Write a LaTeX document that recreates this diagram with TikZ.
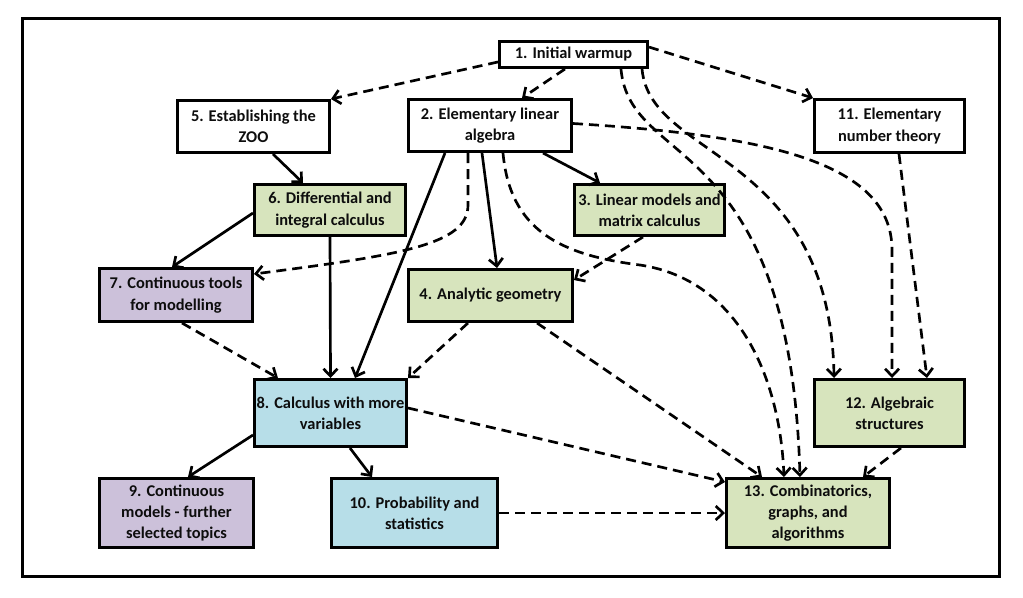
\documentclass[tikz,border=0pt]{standalone}
\usepackage{fontspec}
\setmainfont{Carlito}
\usetikzlibrary{arrows.meta}
\definecolor{lgreen}{HTML}{D7E4BD}
\definecolor{lpurple}{HTML}{CCC1DA}
\definecolor{lblue}{HTML}{B7DEE8}
\begin{document}
\begin{tikzpicture}[x=0.75pt,y=-0.75pt,
    box/.style={draw, line width=2.5pt, align=center, inner sep=0pt,
      font=\fontsize{12.3pt}{16pt}\selectfont\bfseries, text=black!95},
    link/.style={line width=2pt, -{Straight Barb[length=5.5pt,width=10.5pt]}},
    dlink/.style={link, dash pattern=on 7.5pt off 4.5pt}]
        \useasboundingbox (0,0) rectangle (1023,597);
        \draw[line width=2.3pt] (22.5,18.5) rectangle (999.5,576.5);
        % topics
        \node[box, fill=white, minimum width=110.75pt, minimum height=19.25pt] (n1) at (573.5,54.5) {1. Initial warmup};
        \node[box, fill=white, minimum width=122pt, minimum height=38.75pt] (n2) at (490,125.5) {2. Elementary linear\\algebra};
        \node[box, fill=white, minimum width=113.75pt, minimum height=38.75pt] (n5) at (253.5,126.5) {5. Establishing the\\ZOO};
        \node[box, fill=white, minimum width=112.25pt, minimum height=39.5pt] (n11) at (889.5,126) {11. Elementary\\number theory};
        \node[box, fill=lgreen, minimum width=113pt, minimum height=38pt] (n6) at (330,210) {6. Differential and\\integral calculus};
        \node[box, fill=lgreen, minimum width=112.25pt, minimum height=38pt] (n3) at (649.5,210) {3. Linear models and\\matrix calculus};
        \node[box, fill=lpurple, minimum width=114.5pt, minimum height=39.5pt] (n7) at (176,295) {7. Continuous tools\\for modelling};
        \node[box, fill=lgreen, minimum width=122.75pt, minimum height=38.75pt] (n4) at (490.5,295.5) {4. Analytic geometry};
        \node[box, fill=lblue, minimum width=113.75pt, minimum height=50pt] (n8) at (330.5,413) {8. Calculus with more\\variables};
        \node[box, fill=lgreen, minimum width=112.25pt, minimum height=50pt] (n12) at (889.5,413) {12. Algebraic\\structures};
        \node[box, fill=lpurple, minimum width=115.25pt, minimum height=51.5pt] (n9) at (176.5,513) {9. Continuous\\models - further\\selected topics};
        \node[box, fill=lblue, minimum width=124.25pt, minimum height=51.5pt] (n10) at (414.5,513) {10. Probability and\\statistics};
        \node[box, fill=lgreen, minimum width=122pt, minimum height=51.5pt] (n13) at (808,513) {13. Combinatorics,\\graphs, and\\algorithms};
        % solid links
        \draw[link] ([xshift=14.6pt]n5.south) -- ([xshift=-20.25pt]n6.north);
        \draw[link] ([yshift=-2.25pt]n6.west) -- ([xshift=-3pt]n7.north);
        \draw[link] (n6.south) -- (n8.north);
        \draw[link] ([xshift=-33.75pt]n2.south) -- ([xshift=18.4pt]n8.north);
        \draw[link] ([xshift=-6pt]n2.south) -- ([xshift=4.9pt]n4.north);
        \draw[link] ([xshift=39.75pt]n2.south) -- ([xshift=-37.1pt]n3.north);
        \draw[link] ([yshift=-16.5pt]n8.west) -- ([xshift=8.6pt]n9.north);
        \draw[link] ([xshift=14.6pt]n8.south) -- ([xshift=-31.9pt]n10.north);
        % dashed links
        \draw[dlink] ([yshift=-5.6pt]n1.west) -- (n5.north east);
        \draw[dlink] ([xshift=-6.4pt]n1.south) -- ([xshift=24pt]n2.north);
        \draw[dlink] ([yshift=5.6pt]n1.east) -- (n11.north west);
        \draw[dlink] ([xshift=35.6pt]n1.south) .. controls (630,170) and (790,130) .. ([xshift=-6pt]n13.north);
        \draw[dlink] ([xshift=51.4pt]n1.south) .. controls (650,160) and (830,150) .. ([xshift=-41.6pt]n12.north);
        \draw[dlink] ([yshift=1.5pt]n2.east) .. controls (760,135) and (892,160) .. (892,250) -- ([xshift=1.9pt]n12.north);
        \draw[dlink] ([xshift=9.75pt]n2.south) .. controls (510,230) and (560,255) .. (640,265)
            .. controls (740,280) and (780,380) .. ([xshift=-18pt]n13.north);
        \draw[dlink] ([xshift=7.1pt]n11.south) -- ([xshift=28.1pt]n12.north);
        \draw[dlink] ([xshift=-16.5pt]n2.south) -- (468,205) .. controls (468,245) and (400,255) .. ([yshift=15.75pt]n7.east);
        \draw[dlink] ([xshift=-4.9pt]n3.south) -- ([yshift=11.6pt]n4.east);
        \draw[dlink] ([xshift=34.9pt]n4.south) -- ([xshift=-34.5pt]n13.north);
        \draw[dlink] ([xshift=-16.9pt]n4.south) -- (n8.north east);
        \draw[dlink] ([xshift=4.5pt]n7.south) -- ([xshift=-39.4pt]n8.north);
        \draw[dlink] ([yshift=3.75pt]n8.east) -- ([yshift=23.25pt]n13.west);
        \draw[dlink] (n10.east) -- (n13.west);
        \draw[dlink] ([xshift=8.6pt]n12.south) -- ([xshift=41.25pt]n13.north);
\end{tikzpicture}
\end{document}
